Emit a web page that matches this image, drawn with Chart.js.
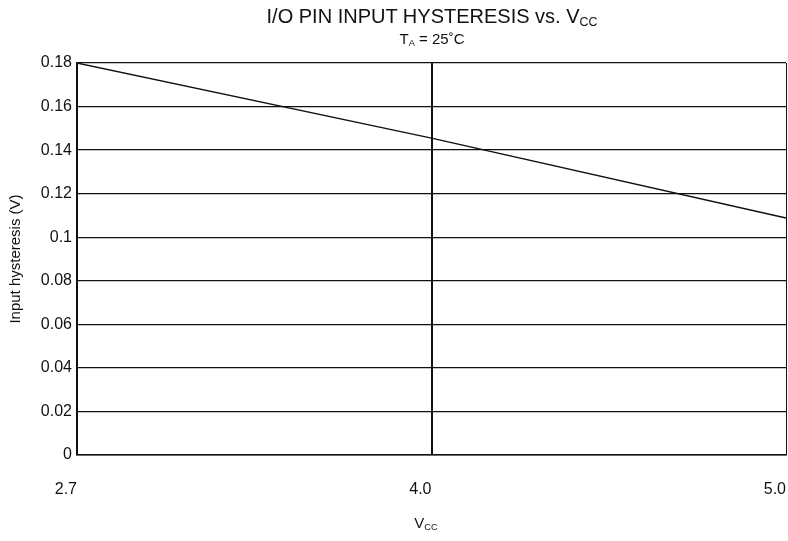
<!DOCTYPE html>
<html>
<head>
<meta charset="utf-8">
<script src="https://cdn.jsdelivr.net/npm/chart.js@4/dist/chart.umd.min.js"></script>
<style>
  html, body { margin: 0; padding: 0; background: #fff; }
  #wrap { position: relative; width: 788px; height: 541px; }
  canvas { position: absolute; left: 0; top: 0; }
  .txt { position: absolute; font-family: "Liberation Sans", Arial, sans-serif; color: #111; white-space: nowrap; transform: translateX(-50%); }
  #title { left: 432px; top: 5px; font-size: 20px; }
  #subtitle { left: 432px; top: 30px; font-size: 15px; }
  #xtitle { left: 426px; top: 514px; font-size: 15px; }
  sub { font-size: 62%; vertical-align: -0.25em; }
</style>
</head>
<body>
<div id="wrap">
  <canvas id="c" width="788" height="541"></canvas>
  <div class="txt" id="title">I/O PIN INPUT HYSTERESIS vs. V<sub>CC</sub></div>
  <div class="txt" id="subtitle">T<sub>A</sub> = 25˚C</div>
  <div class="txt" id="xtitle">V<sub>CC</sub></div>
</div>
<script>
// Data
const vccLabels = ['2.7', '4.0', '5.0'];
const hysteresis = [0.180, 0.1455, 0.1088];
const yMin = 0, yMax = 0.18, yStep = 0.02;
const yAxisTitle = 'Input hysteresis (V)';

const FONT = '"Liberation Sans", Arial, sans-serif';

new Chart(document.getElementById('c'), {
  type: 'line',
  data: {
    labels: vccLabels,
    datasets: [{
      data: hysteresis,
      borderColor: '#111',
      borderWidth: 1.4,
      pointRadius: 0,
      tension: 0,
      fill: false
    }]
  },
  options: {
    responsive: false,
    animation: false,
    devicePixelRatio: 1,
    layout: { padding: { top: 63, right: 2, left: 0, bottom: 0 } },
    plugins: { legend: { display: false }, tooltip: { enabled: false }, title: { display: false } },
    scales: {
      x: {
        type: 'category',
        offset: false,
        grid: {
          color: '#111',
          lineWidth: (ctx) => (ctx.index === 1 ? 2 : 1),
          drawTicks: false
        },
        border: { display: true, color: '#111', width: 1.5 },
        ticks: {
          align: 'end',
          padding: 25,
          maxRotation: 0,
          color: '#111',
          font: { family: FONT, size: 16 }
        },
        afterFit: (scale) => { scale.height = 86; scale.paddingRight = 0; scale.paddingLeft = 0; }
      },
      y: {
        min: yMin,
        max: yMax,
        grid: { color: '#111', lineWidth: 1.3, drawTicks: false },
        border: { display: true, color: '#111', width: 1.5 },
        ticks: {
          stepSize: yStep,
          padding: 5,
          color: '#111',
          font: { family: FONT, size: 16 },
          callback: (v) => String(+Number(v).toFixed(2))
        },
        title: {
          display: true,
          text: yAxisTitle,
          color: '#111',
          font: { family: FONT, size: 15 },
          padding: { top: 7, bottom: 0 }
        },
        afterFit: (scale) => { scale.width = 77; scale.paddingTop = 0; scale.paddingBottom = 0; }
      }
    }
  }
});
</script>
</body>
</html>
